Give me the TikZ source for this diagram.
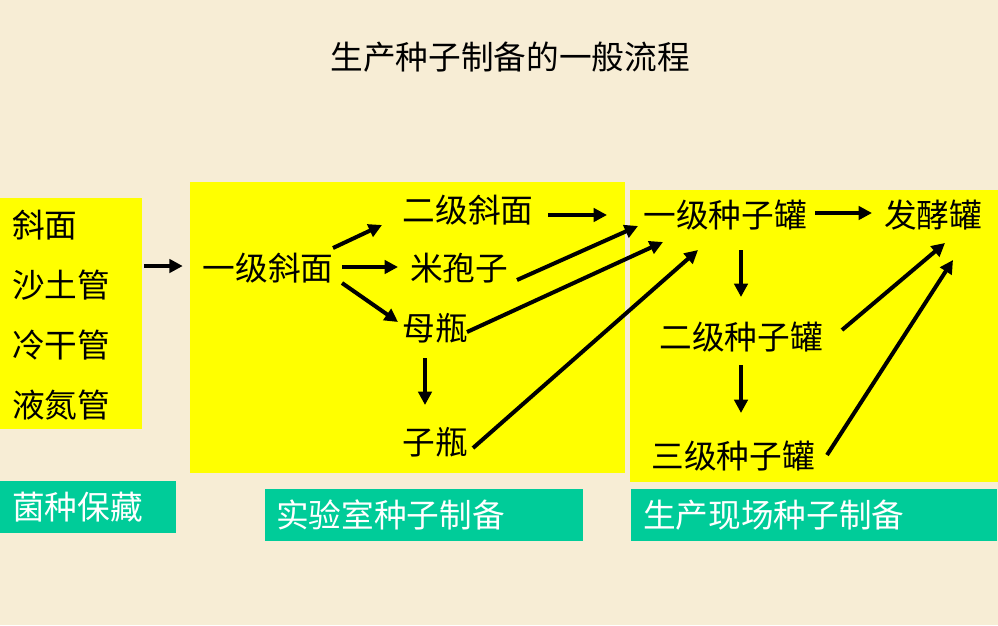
\documentclass[tikz,border=0pt]{standalone}
\usepackage{fontspec}
\setmainfont{Noto Sans CJK SC}
\usetikzlibrary{arrows.meta,calc,fit}
\definecolor{parch}{RGB}{247,237,213}
\definecolor{tealbox}{RGB}{0,204,153}
\definecolor{yel}{RGB}{255,255,0}
\begin{document}
\begin{tikzpicture}[x=0.75pt,y=-0.75pt,
  txt/.style={inner sep=0pt, font=\fontsize{24.5pt}{28pt}\selectfont},
  lbl/.style={txt, text=white},
  ybox/.style={fill=yel, inner sep=0pt, draw=none},
  tbox/.style={fill=tealbox, inner sep=0pt, draw=none},
  arr/.style={line width=3pt, -{Triangle[length=10pt,width=10pt]}}]

\useasboundingbox (0,0) rectangle (998,625);
\fill[parch] (0,0) rectangle (998,625);

% boxes
\node[ybox, fit={(0,198)(142,429)}] (box1) {};
\node[ybox, fit={(190,182)(625,473)}] (box2) {};
\node[ybox, fit={(630,190)(998,482)}] (box3) {};
\node[tbox, fit={(0,481)(176,533)}] (t1) {};
\node[tbox, fit={(265,489)(583,541)}] (t2) {};
\node[tbox, fit={(631,489)(997,541)}] (t3) {};

% title
\node[txt] (title) at (510,57) {生产种子制备的一般流程};

% left list
\node[txt, anchor=west] (l1) at (12,225) {斜面};
\node[txt, anchor=west] (l2) at (12,285) {沙土管};
\node[txt, anchor=west] (l3) at (12,345) {冷干管};
\node[txt, anchor=west] (l4) at (12,405) {液氮管};

% middle
\node[txt] (yjxm) at (268,268) {一级斜面};
\node[txt] (ejxm) at (468,210) {二级斜面};
\node[txt] (mbz) at (459,268) {米孢子};
\node[txt] (mp) at (435,328) {母瓶};
\node[txt] (zp) at (435,442) {子瓶};

% right
\node[txt] (yjzzg) at (725,215) {一级种子罐};
\node[txt] (fjg) at (933,215) {发酵罐};
\node[txt] (ejzzg) at (741,337) {二级种子罐};
\node[txt] (sjzzg) at (733,456) {三级种子罐};

% labels
\node[lbl, anchor=west] (lab1) at (12,507) {菌种保藏};
\node[lbl, anchor=west] (lab2) at (276,515) {实验室种子制备};
\node[lbl, anchor=west] (lab3) at (643,515) {生产现场种子制备};

\coordinate (ejend) at (607,215);

% arrows
\draw[arr] ($(box1.east |- yjxm)+(2,-2)$) -- ($(box2.west |- yjxm)+(-7,-2)$);
\draw[arr] ($(yjxm)+(65,-20)$) -- ($(ejxm)+(-86,15)$);
\draw[arr] ($(yjxm)+(74,-1)$) -- ($(mbz)+(-61,-1)$);
\draw[arr] ($(yjxm)+(74,15)$) -- ($(mp)+(-37,-6)$);
\draw[arr] ($(mp)+(-10,30)$) -- ($(zp)+(-10,-37)$);
\draw[arr] ($(ejxm)+(80,5)$) -- (ejend);
\draw[arr] ($(mbz)+(58,12)$) -- ($(yjzzg)+(-87,11)$);
\draw[arr] ($(mp)+(32,4)$) -- ($(yjzzg)+(-62,27)$);
\draw[arr] ($(zp)+(38,6)$) -- ($(yjzzg)+(-27,35)$);
\draw[arr] ($(yjzzg)+(90,-2)$) -- ($(fjg)+(-61,-2)$);
\draw[arr] ($(yjzzg)+(16,35)$) -- ($(ejzzg)+(0,-40)$);
\draw[arr] ($(ejzzg)+(0,28)$) -- ($(sjzzg)+(8,-43)$);
\draw[arr] ($(ejzzg)+(101,-7)$) -- ($(fjg)+(12,28)$);
\draw[arr] ($(sjzzg)+(94,-1)$) -- ($(fjg)+(20,45)$);
\end{tikzpicture}
\end{document}
